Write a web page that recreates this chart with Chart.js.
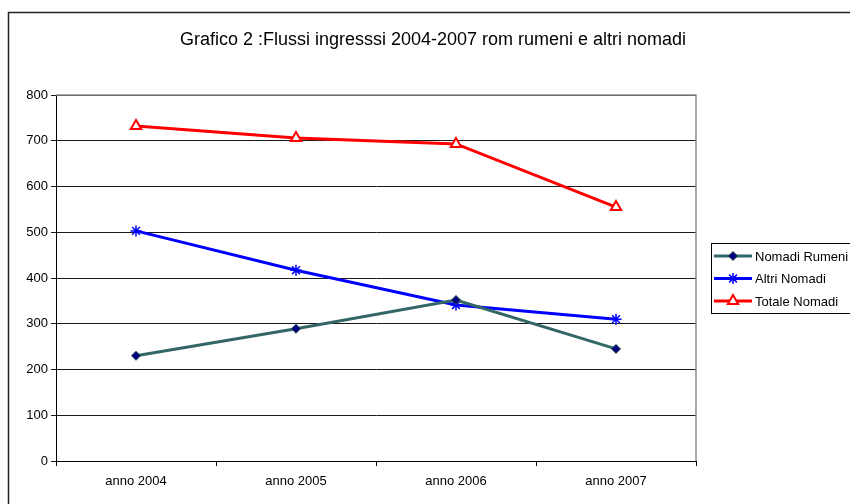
<!DOCTYPE html>
<html>
<head>
<meta charset="utf-8">
<script src="https://cdn.jsdelivr.net/npm/chart.js@4/dist/chart.umd.min.js"></script>
<style>
  html, body { margin: 0; padding: 0; background: #fff; }
  #wrap { width: 850px; height: 504px; }
</style>
</head>
<body>
<div id="wrap"><canvas id="flussi" width="850" height="504"></canvas></div>
<script>
'use strict'

// Data
const anni = ['anno 2004', 'anno 2005', 'anno 2006', 'anno 2007']
const nomadiRumeni = [230, 289, 352, 245]
const altriNomadi = [503, 417, 341, 310]
const totaleNomadi = [732, 706, 693, 555]
const titolo = 'Grafico 2 :Flussi ingresssi 2004-2007 rom rumeni e altri nomadi'

const FONT = '"Liberation Sans", Arial, sans-serif'

// frame, title, plot border and boxed legend
const excelLook = {
  id: 'excelLook',
  afterDraw(chart) {
    const ctx = chart.ctx
    const a = chart.chartArea
    ctx.save()
    // outer frame (only top and left visible)
    ctx.strokeStyle = '#222'
    ctx.lineWidth = 1.5
    ctx.beginPath()
    ctx.moveTo(8.5, 504)
    ctx.lineTo(8.5, 12.5)
    ctx.lineTo(850, 12.5)
    ctx.stroke()

    // plot area top/right border
    ctx.strokeStyle = '#8c8c8c'
    ctx.lineWidth = 1.5
    ctx.beginPath()
    ctx.moveTo(a.left, a.top)
    ctx.lineTo(a.right, a.top)
    ctx.lineTo(a.right, a.bottom)
    ctx.stroke()

    // title
    ctx.fillStyle = '#000'
    ctx.font = '18px ' + FONT
    ctx.textAlign = 'center'
    ctx.textBaseline = 'middle'
    ctx.fillText(titolo, 433, 40)

    // legend
    ctx.strokeStyle = '#000'
    ctx.lineWidth = 1
    ctx.strokeRect(711.5, 243.5, 150, 70)
    ctx.font = '13px ' + FONT
    ctx.textAlign = 'left'
    chart.data.datasets.forEach((ds, i) => {
      const y = 256 + i * 22.5
      ctx.strokeStyle = ds.borderColor
      ctx.lineWidth = ds.borderWidth
      ctx.beginPath()
      ctx.moveTo(714, y)
      ctx.lineTo(752, y)
      ctx.stroke()
      ctx.fillStyle = ds.pointBackgroundColor
      ctx.strokeStyle = ds.pointBorderColor
      ctx.lineWidth = ds.pointBorderWidth
      Chart.helpers.drawPoint(ctx, {
        pointStyle: ds.pointStyle,
        radius: ds.pointRadius,
        borderWidth: ds.pointBorderWidth,
        rotation: 0
      }, 733, y)
      ctx.fillStyle = '#000'
      ctx.fillText(ds.label, 755, y + 1)
    })
    ctx.restore()
  }
}

const chart = new Chart(document.getElementById('flussi'), {
  type: 'line',
  data: {
    labels: anni,
    datasets: [
      {
        label: 'Nomadi Rumeni',
        data: nomadiRumeni,
        borderColor: '#336666',
        borderWidth: 3,
        pointStyle: 'rectRot',
        pointRadius: 4.5,
        pointBackgroundColor: '#000080',
        pointBorderColor: '#1f4a4a',
        pointBorderWidth: 1,
        tension: 0
      },
      {
        label: 'Altri Nomadi',
        data: altriNomadi,
        borderColor: '#0000ff',
        borderWidth: 3,
        pointStyle: 'star',
        pointRadius: 5.5,
        pointBackgroundColor: '#0000ff',
        pointBorderColor: '#0000ff',
        pointBorderWidth: 1.5,
        tension: 0
      },
      {
        label: 'Totale Nomadi',
        data: totaleNomadi,
        borderColor: '#ff0000',
        borderWidth: 3,
        pointStyle: 'triangle',
        pointRadius: 6,
        pointBackgroundColor: '#ffffff',
        pointBorderColor: '#ff0000',
        pointBorderWidth: 2,
        tension: 0
      }
    ]
  },
  options: {
    responsive: false,
    animation: false,
    layout: {
      padding: {left: 0, top: 95, right: 154, bottom: 0}
    },
    plugins: {
      legend: {display: false},
      title: {display: false},
      tooltip: {enabled: false}
    },
    scales: {
      x: {
        offset: true,
        grid: {
          offset: true,
          drawOnChartArea: false,
          drawTicks: true,
          tickLength: 5,
          color: '#000'
        },
        border: {color: '#000', width: 1},
        ticks: {
          color: '#000',
          font: {family: FONT, size: 13},
          padding: 8,
          maxRotation: 0
        },
        afterFit: (scale) => { scale.height = 43 }
      },
      y: {
        min: 0,
        max: 800,
        grid: {
          color: '#1a1a1a',
          tickLength: 5,
          drawTicks: true
        },
        border: {color: '#000', width: 1},
        ticks: {
          stepSize: 100,
          color: '#000',
          font: {family: FONT, size: 13},
          padding: 3
        },
        afterFit: (scale) => { scale.width = 56 }
      }
    }
  },
  plugins: [excelLook]
})
</script>
</body>
</html>
